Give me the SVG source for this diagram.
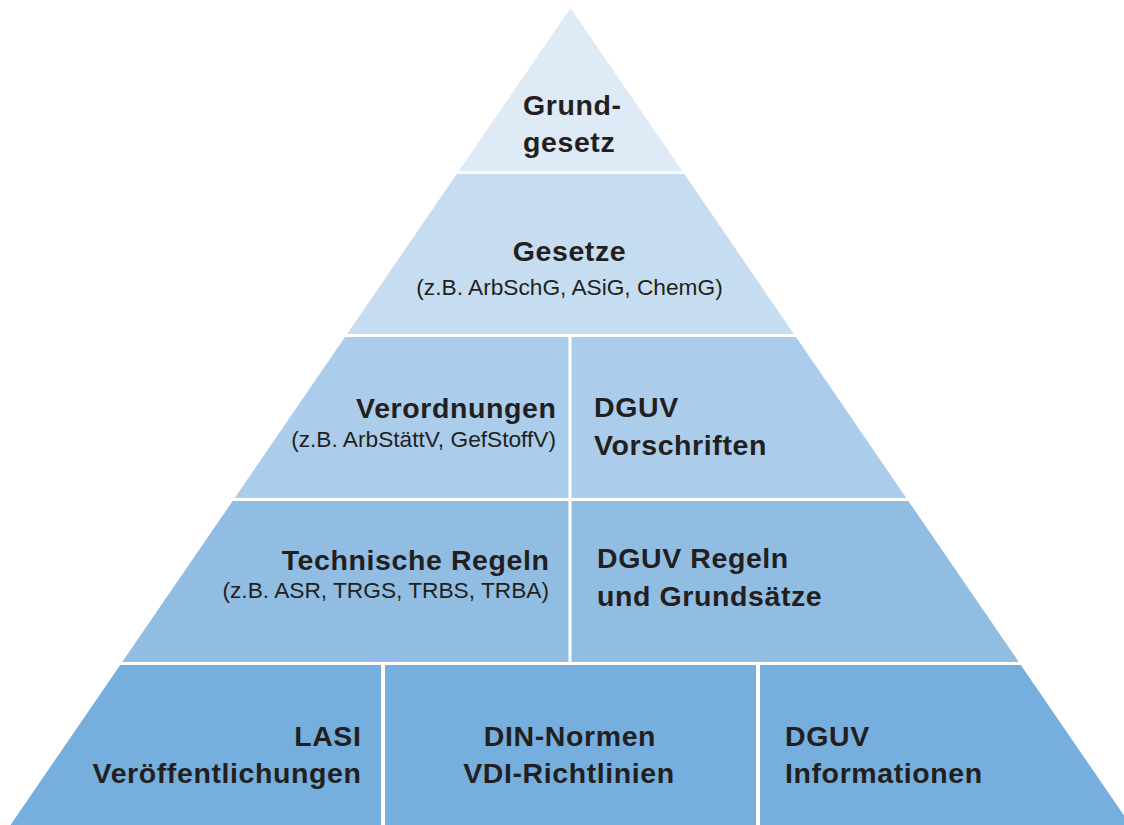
<svg xmlns="http://www.w3.org/2000/svg" width="1124" height="825" viewBox="0 0 1124 825">
<style>
.t{font-family:"Liberation Sans",Arial,sans-serif;font-weight:bold;font-size:28.5px;letter-spacing:0.6px;fill:#231f20}
.s{font-family:"Liberation Sans",Arial,sans-serif;font-size:22.7px;fill:#231f20}
.r{text-anchor:end}
.m{text-anchor:middle}
.c1{fill:#deebf7}.c2{fill:#c6ddf1}.c3{fill:#abcdeb}.c4{fill:#92bde3}.c5{fill:#76afdd}
</style>
<rect x="0" y="0" width="1124" height="825" fill="#ffffff"/>
<g id="grundgesetz">
<polygon class="c1" points="570.5,8 682.2,171 458.8,171"/>
<text class="t" x="523" y="115">Grund-</text>
<text class="t" x="523" y="152">gesetz</text>
</g>
<g id="gesetze">
<polygon class="c2" points="456.7,174 684.3,174 793.9,334 347.1,334"/>
<text class="t m" x="569.5" y="261">Gesetze</text>
<text class="s m" x="569.5" y="295">(z.B. ArbSchG, ASiG, ChemG)</text>
</g>
<g id="verordnungen">
<polygon class="c3" points="345,337 568.5,337 568.5,498 234.7,498"/>
<text class="t r" x="556.5" y="418">Verordnungen</text>
<text class="s r" x="556" y="447">(z.B. ArbStättV, GefStoffV)</text>
</g>
<g id="dguv-vorschriften">
<polygon class="c3" points="571.5,337 796,337 906.3,498 571.5,498"/>
<text class="t" x="594" y="417">DGUV</text>
<text class="t" x="594" y="455">Vorschriften</text>
</g>
<g id="technische-regeln">
<polygon class="c4" points="232.6,501 568.5,501 568.5,662 122.2,662"/>
<text class="t r" x="549.5" y="570">Technische Regeln</text>
<text class="s r" x="549" y="598">(z.B. ASR, TRGS, TRBS, TRBA)</text>
</g>
<g id="dguv-regeln">
<polygon class="c4" points="571.5,501 908.4,501 1018.8,662 571.5,662"/>
<text class="t" x="597" y="568">DGUV Regeln</text>
<text class="t" x="597" y="606">und Grundsätze</text>
</g>
<g id="lasi">
<polygon class="c5" points="120.2,665 381,665 381,825 10.5,825"/>
<text class="t r" x="361.5" y="746">LASI</text>
<text class="t r" x="361.5" y="783">Veröffentlichungen</text>
</g>
<g id="din-vdi">
<polygon class="c5" points="385,665 756,665 756,825 385,825"/>
<text class="t m" x="570" y="746">DIN-Normen</text>
<text class="t m" x="569" y="783">VDI-Richtlinien</text>
</g>
<g id="dguv-informationen">
<polygon class="c5" points="760,665 1020.8,665 1130.5,825 760,825"/>
<text class="t" x="785" y="746">DGUV</text>
<text class="t" x="785" y="783">Informationen</text>
</g>
</svg>
